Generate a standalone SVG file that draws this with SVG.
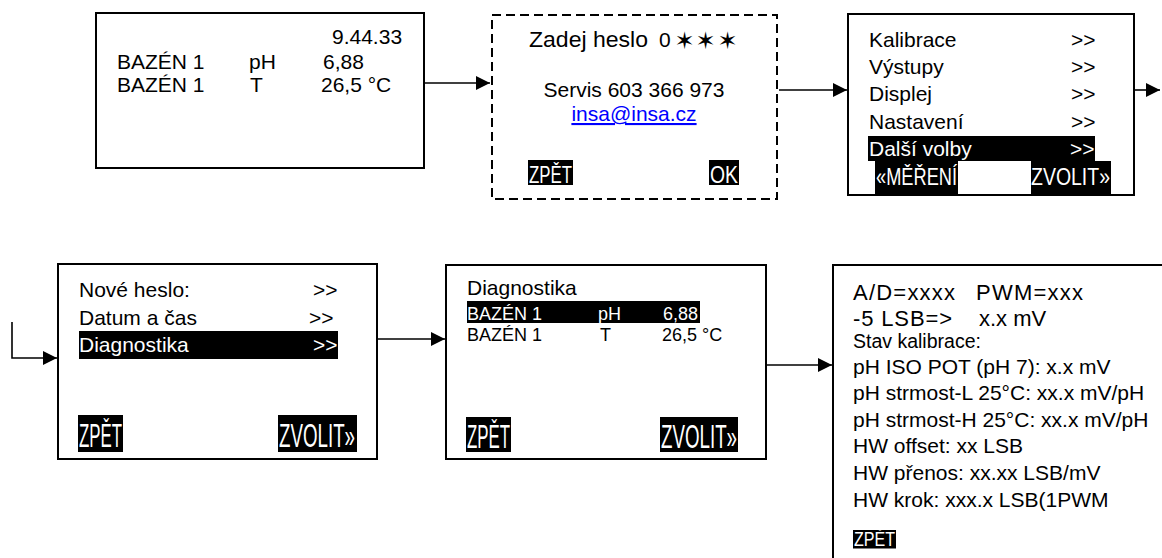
<svg xmlns="http://www.w3.org/2000/svg" width="1162" height="558" viewBox="0 0 1162 558">
<style>
text{font-family:"Liberation Sans",Arial,sans-serif;fill:#000}
.t{font-size:21px}
.s{font-size:18px}
.w{fill:#fff}
.frame{fill:#fff;stroke:#000;stroke-width:2}
.dash{fill:#fff;stroke:#000;stroke-width:2;stroke-dasharray:9 5}
.hl{fill:#000}
.conn{fill:none;stroke:#000;stroke-width:1.6}
.btn{fill:#fff}
.star{font-family:"DejaVu Sans",sans-serif;font-size:24px;text-anchor:middle}
</style>
<defs>
<marker id="arr" markerUnits="userSpaceOnUse" markerWidth="14" markerHeight="14" refX="14" refY="7" orient="auto">
<path d="M0,0 L14,7 L0,14 z" fill="#000"/>
</marker>
</defs>
<rect width="1162" height="558" fill="#fff"/>

<g id="connectors">
<line class="conn" x1="424" y1="83" x2="490" y2="83" marker-end="url(#arr)"/>
<line class="conn" x1="779" y1="90" x2="847" y2="90" marker-end="url(#arr)"/>
<line class="conn" x1="1131" y1="90" x2="1160" y2="90" marker-end="url(#arr)"/>
<polyline class="conn" points="12,322 12,358 57,358" marker-end="url(#arr)"/>
<line class="conn" x1="378" y1="339" x2="445" y2="339" marker-end="url(#arr)"/>
<line class="conn" x1="766" y1="365" x2="832" y2="365" marker-end="url(#arr)"/>
</g>

<g id="node-measure">
<rect class="frame" x="96" y="13" width="328" height="155"/>
<text class="t" x="332" y="44">9.44.33</text>
<text class="t" x="117" y="69">BAZÉN 1</text>
<text class="t" x="249" y="69">pH</text>
<text class="t" x="323" y="69">6,88</text>
<text class="t" x="117" y="92">BAZÉN 1</text>
<text class="t" x="250" y="92">T</text>
<text class="t" x="321" y="92">26,5 °C</text>
</g>

<g id="node-password">
<rect class="dash" x="492" y="15" width="285" height="184"/>
<text x="529" y="47" font-size="22.5" textLength="119" lengthAdjust="spacingAndGlyphs">Zadej heslo</text>
<text class="t" x="659" y="47">0</text>
<text class="star" x="684.5" y="49">✶</text>
<text class="star" x="705.5" y="49">✶</text>
<text class="star" x="727.5" y="49">✶</text>
<text class="t" x="634" y="97" text-anchor="middle">Servis 603 366 973</text>
<text class="t" x="634" y="121" text-anchor="middle" style="fill:#0000ff" text-decoration="underline">insa@insa.cz</text>
<rect class="hl" x="528" y="160" width="45" height="25"/>
<text class="btn" x="529" y="183" font-size="23" textLength="43" lengthAdjust="spacingAndGlyphs">ZPĚT</text>
<rect class="hl" x="709" y="160" width="30" height="25"/>
<text class="btn" x="710" y="183" font-size="23" textLength="28" lengthAdjust="spacingAndGlyphs">OK</text>
</g>

<g id="node-menu">
<rect class="frame" x="848" y="14" width="286" height="181"/>
<text class="t" x="869" y="47">Kalibrace</text>
<text class="t" x="1071" y="47">&gt;&gt;</text>
<text class="t" x="869" y="74">Výstupy</text>
<text class="t" x="1071" y="74">&gt;&gt;</text>
<text class="t" x="869" y="101">Displej</text>
<text class="t" x="1071" y="101">&gt;&gt;</text>
<text class="t" x="869" y="128.5">Nastavení</text>
<text class="t" x="1071" y="128.5">&gt;&gt;</text>
<rect class="hl" x="868" y="136" width="227" height="25"/>
<text class="t w" x="869" y="156">Další volby</text>
<text class="t w" x="1070" y="156">&gt;&gt;</text>
<rect class="hl" x="875" y="161" width="83" height="33"/>
<text class="btn" x="876" y="185" font-size="24" textLength="81" lengthAdjust="spacingAndGlyphs">«MĚŘENÍ</text>
<rect class="hl" x="1031" y="161" width="80" height="33"/>
<text class="btn" x="1031" y="185" font-size="24" textLength="79" lengthAdjust="spacingAndGlyphs">ZVOLIT»</text>
</g>

<g id="node-more">
<rect class="frame" x="58" y="264" width="319" height="195"/>
<text class="t" x="79" y="297">Nové heslo:</text>
<text class="t" x="313" y="297">&gt;&gt;</text>
<text class="t" x="79" y="325">Datum a čas</text>
<text class="t" x="309" y="325">&gt;&gt;</text>
<rect class="hl" x="79" y="331" width="259" height="28"/>
<text class="t w" x="79" y="352">Diagnostika</text>
<text class="t w" x="313" y="352">&gt;&gt;</text>
<rect class="hl" x="78" y="415" width="45" height="37"/>
<text class="btn" x="79" y="447" font-size="34" textLength="43" lengthAdjust="spacingAndGlyphs">ZPĚT</text>
<rect class="hl" x="278" y="415" width="79" height="37"/>
<text class="btn" x="279" y="447" font-size="34" textLength="76" lengthAdjust="spacingAndGlyphs">ZVOLIT»</text>
</g>

<g id="node-diag">
<rect class="frame" x="446" y="265" width="320" height="194"/>
<text class="t" x="467" y="295">Diagnostika</text>
<rect class="hl" x="467" y="301" width="233" height="22"/>
<text class="s w" x="467" y="320">BAZÉN 1</text>
<text class="s w" x="598" y="320">pH</text>
<text class="s w" x="663" y="320">6,88</text>
<text class="s" x="467" y="340.5">BAZÉN 1</text>
<text class="s" x="600" y="340.5">T</text>
<text class="s" x="662" y="340.5">26,5 °C</text>
<rect class="hl" x="466" y="417" width="45" height="35"/>
<text class="btn" x="467" y="448" font-size="34" textLength="43" lengthAdjust="spacingAndGlyphs">ZPĚT</text>
<rect class="hl" x="660" y="417" width="78" height="35"/>
<text class="btn" x="661" y="448" font-size="34" textLength="76" lengthAdjust="spacingAndGlyphs">ZVOLIT»</text>
</g>

<g id="node-detail">
<rect class="frame" x="833" y="265" width="400" height="320"/>
<text x="853" y="300" font-size="22" textLength="102" lengthAdjust="spacing">A/D=xxxx</text>
<text x="976" y="300" font-size="22" textLength="107" lengthAdjust="spacing">PWM=xxx</text>
<text x="853" y="326" font-size="22" textLength="99" lengthAdjust="spacing">-5 LSB=&gt;</text>
<text x="979" y="326" font-size="22">x.x mV</text>
<text x="853" y="348" font-size="19.5">Stav kalibrace:</text>
<text class="t" x="853" y="373.5">pH ISO POT (pH 7): x.x mV</text>
<text class="t" x="853" y="400">pH strmost-L 25°C: xx.x mV/pH</text>
<text class="t" x="853" y="427">pH strmost-H 25°C: xx.x mV/pH</text>
<text class="t" x="853" y="453">HW offset: xx LSB</text>
<text class="t" x="853" y="480">HW přenos: xx.xx LSB/mV</text>
<text class="t" x="853" y="507">HW krok: xxx.x LSB(1PWM</text>
<rect class="hl" x="853" y="530" width="43" height="18.5"/>
<text class="btn" x="854" y="546" font-size="21" textLength="41" lengthAdjust="spacingAndGlyphs">ZPĚT</text>
</g>
</svg>
